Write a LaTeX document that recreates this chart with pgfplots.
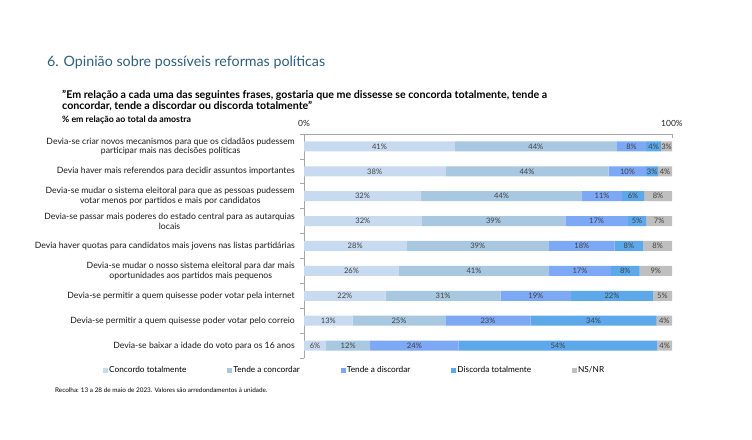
\documentclass[border=0pt]{standalone}
\usepackage{pgfplots}
\pgfplotsset{compat=1.18}
\usepackage{pgfplotstable}
\usepackage{fontspec}
\setmainfont{Lato}
\definecolor{cA}{HTML}{C8DAF0}
\definecolor{cB}{HTML}{A8C8E1}
\definecolor{cC}{HTML}{7DA8F5}
\definecolor{cD}{HTML}{5CA8EB}
\definecolor{cE}{HTML}{BFBFBF}
\definecolor{ttl}{HTML}{2F5F80}
\definecolor{lbl}{HTML}{404040}
\pgfplotstableread{
row c1 c2 c3 c4 c5
0 41 44 8 4 3
1 38.4 44.4 10.2 3.2 3.8
2 31.8 43.8 10.8 6.0 7.6
3 32 39 17 5 7
4 27.8 38.8 17.8 7.8 7.8
5 25.8 40.8 16.8 7.8 8.8
6 22.2 31.2 19.2 22.2 5.2
7 13.2 25.2 23.2 34.2 4.2
8 6 12 24 54 4
}\data
\begin{document}
\begin{tikzpicture}
\path[use as bounding box] (0,0) rectangle (752bp,440bp);
\node[anchor=base west, text=ttl, font=\fontsize{14.3}{16}\selectfont, inner sep=0pt] at (47bp,373bp) {6. Opinião sobre possíveis reformas políticas};
\node[anchor=base west, font=\fontsize{10.7}{12}\selectfont\bfseries, inner sep=0pt, align=left] at (62bp,330bp) {"Em relação a cada uma das seguintes frases, gostaria que me dissesse se concorda totalmente, tende a\\concordar, tende a discordar ou discorda totalmente"};
\node[anchor=base west, font=\fontsize{8.8}{10}\selectfont\bfseries, inner sep=0pt] at (62bp,317bp) {\% em relação ao total da amostra};
\node[anchor=base west, font=\fontsize{6.4}{7}\selectfont, inner sep=0pt] at (55bp,47bp) {Recolha: 13 a 28 de maio de 2023. Valores são arredondamentos à unidade.};
\begin{axis}[
  at={(304bp,306bp)}, anchor=north west,
  width=368bp, height=224bp, scale only axis,
  xbar stacked, bar width=10bp,
  xmin=0, xmax=100, ymin=-0.5, ymax=8.5, y dir=reverse,
  axis x line=top, axis y line=left,
  axis line style={draw=black!35, line width=0.6bp, -},
  /pgf/number format/assume math mode=true,
  xtick={0,100}, xticklabels={0\%,100\%}, minor xtick={100},
  xtick align=inside,
  x tick label style={font=\fontsize{8.5}{9}\selectfont, text=black!85, yshift=4bp},
  ytick={0,...,8},
  yticklabels={
    {Devia-se criar novos mecanismos para que os cidadãos pudessem\\participar mais nas decisões políticas},
    {Devia haver mais referendos para decidir assuntos importantes},
    {Devia-se mudar o sistema eleitoral para que as pessoas pudessem\\votar menos por partidos e mais por candidatos},
    {Devia-se passar mais poderes do estado central para as autarquias\\locais},
    {Devia haver quotas para candidatos mais jovens nas listas partidárias},
    {Devia-se mudar o nosso sistema eleitoral para dar mais\\oportunidades aos partidos mais pequenos},
    {Devia-se permitir a quem quisesse poder votar pela internet},
    {Devia-se permitir a quem quisesse poder votar pelo correio},
    {Devia-se baixar a idade do voto para os 16 anos}},
  yticklabel style={font=\fontsize{8.7}{9.6}\selectfont, align=center, text=black!90, inner sep=0pt, xshift=-9bp},
  minor ytick={-0.5,0.5,...,8.5},
  ytick align=outside,
  major tick length=0pt, minor tick length=4bp,
  tick style={draw=black!35, line width=0.6bp},
  legend columns=5,
  legend style={at={(axis description cs:-0.5462,-0.0536)}, anchor=west, draw=none, fill=none, inner sep=0pt,
    font=\fontsize{8.3}{10}\selectfont, nodes={inner sep=1bp},
    /tikz/every even column/.append style={column sep=40bp}},
  legend image code/.code={\fill[#1] (0bp,-2.5bp) rectangle (5bp,2.5bp);},
]
\addplot[fill=cA, draw=none] table[x=c1, y=row] {\data};
\addplot[fill=cB, draw=none] table[x=c2, y=row] {\data};
\addplot[fill=cC, draw=none] table[x=c3, y=row] {\data};
\addplot[fill=cD, draw=none] table[x=c4, y=row] {\data};
\addplot[fill=cE, draw=none] table[x=c5, y=row] {\data};
\legend{Concordo totalmente, Tende a concordar, Tende a discordar, Discorda totalmente, NS/NR}
\end{axis}
\begin{axis}[
  at={(304bp,306bp)}, anchor=north west,
  width=368bp, height=224bp, scale only axis, hide axis,
  xmin=0, xmax=100, ymin=-0.5, ymax=8.5, y dir=reverse,
  /pgf/number format/assume math mode=true,
  nodes near coords={\pgfmathprintnumber[fixed,precision=0,assume math mode=true]{\pgfplotspointmeta}\%},
  nodes near coords align={center},
  every node near coord/.append style={font=\fontsize{7.6}{8}\selectfont, text=lbl, inner sep=0pt},
  point meta=explicit,
]
\addplot[only marks, mark=*, mark size=0pt, mark options={draw=none, fill=none}] table[x expr=\thisrow{c1}/2, y=row, meta=c1] {\data};
\addplot[only marks, mark=*, mark size=0pt, mark options={draw=none, fill=none}] table[x expr=\thisrow{c1}+\thisrow{c2}/2, y=row, meta=c2] {\data};
\addplot[only marks, mark=*, mark size=0pt, mark options={draw=none, fill=none}] table[x expr=\thisrow{c1}+\thisrow{c2}+\thisrow{c3}/2, y=row, meta=c3] {\data};
\addplot[only marks, mark=*, mark size=0pt, mark options={draw=none, fill=none}] table[x expr=\thisrow{c1}+\thisrow{c2}+\thisrow{c3}+\thisrow{c4}/2, y=row, meta=c4] {\data};
\addplot[only marks, mark=*, mark size=0pt, mark options={draw=none, fill=none}] table[x expr=\thisrow{c1}+\thisrow{c2}+\thisrow{c3}+\thisrow{c4}+\thisrow{c5}/2, y=row, meta=c5] {\data};
\end{axis}
\end{tikzpicture}
\end{document}
